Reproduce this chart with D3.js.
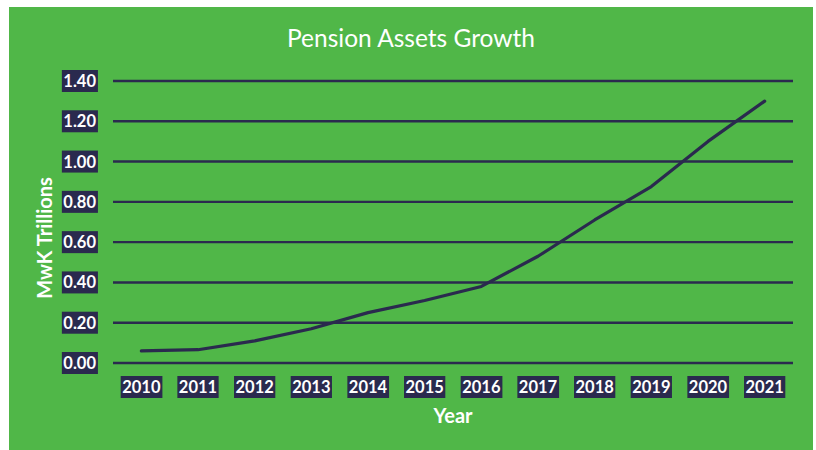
<!DOCTYPE html>
<meta charset="utf-8">
<script src="https://d3js.org/d3.v7.min.js"></script>
<style>
  body { margin: 0; background: #fff; }
  text { font-family: Lato, "Open Sans", sans-serif; }
</style>
<div id="chart"></div>
<script>
// data
var years = ["2010","2011","2012","2013","2014","2015","2016","2017","2018","2019","2020","2021"];
var assets = [0.06, 0.066, 0.11, 0.17, 0.25, 0.31, 0.38, 0.53, 0.71, 0.876, 1.10, 1.30];
var yTicks = [0, 0.2, 0.4, 0.6, 0.8, 1.0, 1.2, 1.4];

var W = 816, H = 450;
var green = "#50b748", navy = "#2a2a4e";
var margin = {top: 81, right: 23, bottom: 87, left: 113};

var svg = d3.select("#chart").append("svg")
    .attr("width", W).attr("height", H);

// green card
svg.append("rect")
    .attr("x", 9).attr("y", 7).attr("width", 804).attr("height", 450)
    .attr("fill", green);

var x = d3.scaleBand().domain(years).range([margin.left, W - margin.right]);
var y = d3.scaleLinear().domain([0, 1.4]).range([H - margin.bottom, margin.top]);

// gridlines
svg.append("g").selectAll("line")
  .data(yTicks)
  .enter().append("line")
    .attr("x1", margin.left).attr("x2", W - margin.right)
    .attr("y1", function(d) { return y(d); })
    .attr("y2", function(d) { return y(d); })
    .attr("stroke", navy).attr("stroke-width", 2.4);

// label with dark box behind it
function boxLabel(g, txt, px, py, anchor) {
  var t = g.append("text")
      .attr("x", px).attr("y", py)
      .attr("dy", "0.36em")
      .attr("text-anchor", anchor)
      .attr("fill", "#fff")
      .attr("font-size", 16.5)
      .attr("font-weight", "bold")
      .text(txt);
  var b = t.node().getBBox();
  g.insert("rect", "text")
      .attr("x", b.x - 1.5).attr("y", py - 11)
      .attr("width", b.width + 3).attr("height", 22)
      .attr("fill", navy);
}

var yl = svg.append("g");
yTicks.forEach(function(d) {
  var g = yl.append("g");
  boxLabel(g, d3.format(".2f")(d), 96, y(d), "end");
});

var xl = svg.append("g");
years.forEach(function(d) {
  var g = xl.append("g");
  boxLabel(g, d, x(d) + x.bandwidth() / 2, 387, "middle");
});

// the line
svg.append("path")
    .datum(assets)
    .attr("fill", "none")
    .attr("stroke", navy)
    .attr("stroke-width", 3.2)
    .attr("stroke-linecap", "round")
    .attr("stroke-linejoin", "round")
    .attr("d", d3.line()
      .x(function(d, i) { return x(years[i]) + x.bandwidth() / 2; })
      .y(function(d) { return y(d); }));

// titles
svg.append("text")
    .attr("x", 411).attr("y", 47)
    .attr("text-anchor", "middle")
    .attr("fill", "#fff")
    .attr("font-size", 24.5)
    .text("Pension Assets Growth");

svg.append("text")
    .attr("transform", "translate(52,238) rotate(-90)")
    .attr("text-anchor", "middle")
    .attr("fill", "#fff")
    .attr("font-size", 20)
    .attr("font-weight", "bold")
    .text("MwK Trillions");

svg.append("text")
    .attr("x", 453).attr("y", 423)
    .attr("text-anchor", "middle")
    .attr("fill", "#fff")
    .attr("font-size", 20)
    .attr("font-weight", "bold")
    .text("Year");
</script>
